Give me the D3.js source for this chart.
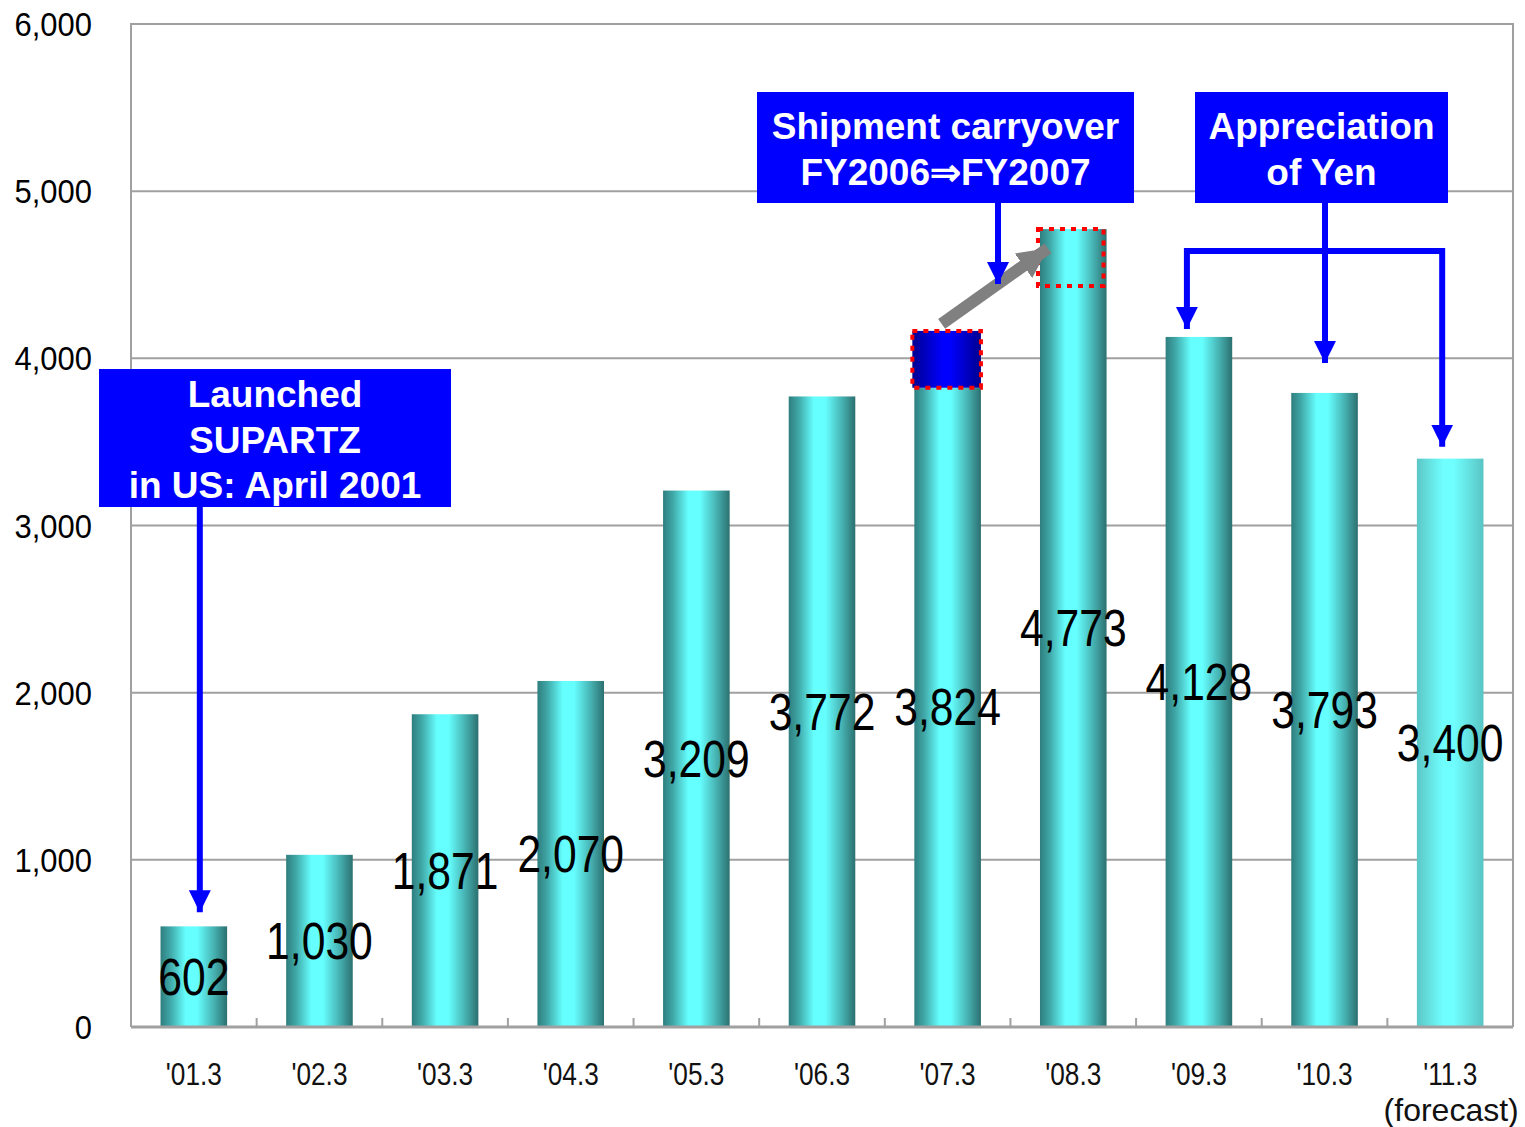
<!DOCTYPE html>
<head>
<meta charset="utf-8">
<style>
body, html {
  margin: 0;
  background: #fff;
  font-family: "Liberation Sans", Arial, sans-serif;
}
.grid line { stroke: #a0a0a0; stroke-width: 2; }
.frame { fill: none; stroke: #a0a0a0; stroke-width: 2; }
.ylab { font-size: 34px; fill: #000; text-anchor: end; }
.xlab { font-size: 32px; fill: #111; text-anchor: middle; }
.val { font-size: 52px; fill: #000; text-anchor: middle; }
.note { font-weight: bold; font-size: 37px; fill: #fff; text-anchor: middle; }
</style>
<script src="https://d3js.org/d3.v7.min.js"></script>
</head>
<body>
<div id="chart"></div>
<script>

// sales (million yen) by fiscal year end
var categories = ["'01.3", "'02.3", "'03.3", "'04.3", "'05.3", "'06.3", "'07.3", "'08.3", "'09.3", "'10.3", "'11.3"];
var sales = [602, 1030, 1871, 2070, 3209, 3772, 3824, 4773, 4128, 3793, 3400];
var forecast = [false, false, false, false, false, false, false, false, false, false, true];
var yTicks = [0, 1000, 2000, 3000, 4000, 5000, 6000];
var carryover = 340;   // shipment moved from FY2006 to FY2007 (estimated)

var width = 1525, height = 1127;
var plot = {left: 131, right: 1513, top: 24, bottom: 1027};
var narrow = 0.82;     // horizontal squeeze to mimic a condensed face

var svg = d3.select('#chart').append('svg')
    .attr('width', width)
    .attr('height', height);

var x = d3.scaleBand()
    .domain(categories)
    .range([plot.left, plot.right])
    .paddingInner(0.47)
    .paddingOuter(0.235);

var y = d3.scaleLinear()
    .domain([0, 6000])
    .range([plot.bottom, plot.top]);

var cx = function(c) { return x(c) + x.bandwidth() / 2; };

//--------------------------------------
// gradients
var defs = svg.append('defs');
function gradient(id, stops) {
  var g = defs.append('linearGradient').attr('id', id)
      .attr('x1', 0).attr('x2', 1).attr('y1', 0).attr('y2', 0);
  stops.forEach(function(s) {
    g.append('stop').attr('offset', s[0]).attr('stop-color', s[1]);
  });
}
gradient('barGrad', [[0, '#2f7e7e'], [0.15, '#40a8a8'], [0.38, '#66ffff'], [0.55, '#66ffff'], [0.8, '#47b2b2'], [1, '#2c7070']]);
gradient('foreGrad', [[0, '#5cc6c6'], [0.4, '#70ffff'], [0.55, '#70ffff'], [1, '#5ac4c4']]);
gradient('blueGrad', [[0, '#000090'], [0.45, '#0000ff'], [0.55, '#0000ff'], [1, '#000090']]);

function marker(id, color, w, h) {
  defs.append('marker').attr('id', id)
      .attr('viewBox', '0 0 10 10')
      .attr('refX', 10).attr('refY', 5)
      .attr('markerUnits', 'userSpaceOnUse')
      .attr('markerWidth', h).attr('markerHeight', w)
      .attr('orient', 'auto')
    .append('path').attr('d', 'M0,0L10,5L0,10Z').attr('fill', color);
}
marker('blueHead', '#0000ff', 24, 22);
marker('grayHead', '#808080', 36, 30);

//--------------------------------------
// grid and frame
svg.append('g').attr('class', 'grid')
  .selectAll('line').data(yTicks.slice(1)).enter().append('line')
    .attr('x1', plot.left).attr('x2', plot.right)
    .attr('y1', function(d) { return y(d); })
    .attr('y2', function(d) { return y(d); });

svg.append('path').attr('class', 'frame')
    .attr('d', 'M' + plot.left + ',' + plot.bottom + 'V' + plot.top + 'H' + plot.right + 'V' + plot.bottom);

svg.append('g').selectAll('text').data(yTicks).enter().append('text')
    .attr('class', 'ylab')
    .attr('transform', function(d) { return 'translate(92,' + (y(d) + 12) + ') scale(0.91,1)'; })
    .text(d3.format(','));

//--------------------------------------
// bars
var bars = categories.map(function(c, i) { return {cat: c, v: sales[i], f: forecast[i]}; });

svg.append('g').selectAll('rect').data(bars).enter().append('rect')
    .attr('x', function(d) { return x(d.cat); })
    .attr('width', x.bandwidth())
    .attr('y', function(d) { return y(d.v); })
    .attr('height', function(d) { return y(0) - y(d.v); })
    .attr('fill', function(d) { return d.f ? 'url(#foreGrad)' : 'url(#barGrad)'; });

// x axis line and ticks between bands
svg.append('line')
    .attr('x1', plot.left).attr('x2', plot.right)
    .attr('y1', plot.bottom).attr('y2', plot.bottom)
    .attr('stroke', '#a0a0a0').attr('stroke-width', 3);

svg.append('g').selectAll('line').data(categories.slice(1)).enter().append('line')
    .attr('x1', function(c) { return x(c) - x.step() * x.paddingInner() / 2; })
    .attr('x2', function(c) { return x(c) - x.step() * x.paddingInner() / 2; })
    .attr('y1', plot.bottom).attr('y2', plot.bottom - 9)
    .attr('stroke', '#a0a0a0').attr('stroke-width', 2);

svg.append('g').selectAll('text').data(categories).enter().append('text')
    .attr('class', 'xlab')
    .attr('transform', function(c) { return 'translate(' + cx(c) + ',1085) scale(' + narrow + ',1)'; })
    .text(function(d) { return d; });

svg.append('text').attr('class', 'xlab')
    .attr('x', cx(categories[10]) + 1)
    .attr('y', 1121)
    .text('(forecast)');

//--------------------------------------
// carryover block on '07.3 and its target on '08.3
var c07 = categories[6], c08 = categories[7];
svg.append('rect')
    .attr('x', x(c07) - 2).attr('width', x.bandwidth() + 2)
    .attr('y', y(sales[6] + carryover)).attr('height', y(sales[6]) - y(sales[6] + carryover))
    .attr('fill', 'url(#blueGrad)')
    .attr('stroke', '#ff0000').attr('stroke-width', 4).attr('stroke-dasharray', '5,6');

svg.append('rect')
    .attr('x', x(c08) - 2).attr('width', x.bandwidth() - 1)
    .attr('y', y(sales[7])).attr('height', y(sales[7] - carryover) - y(sales[7]))
    .attr('fill', 'none')
    .attr('stroke', '#ff0000').attr('stroke-width', 4).attr('stroke-dasharray', '5,6');

svg.append('line')
    .attr('x1', cx(c07) - 6).attr('y1', y(sales[6] + carryover) - 7)
    .attr('x2', x(c08) + 8).attr('y2', y(sales[7] - 115))
    .attr('stroke', '#808080').attr('stroke-width', 12)
    .attr('marker-end', 'url(#grayHead)');

//--------------------------------------
// values
svg.append('g').selectAll('text').data(bars).enter().append('text')
    .attr('class', 'val')
    .attr('transform', function(d) {
      return 'translate(' + cx(d.cat) + ',' + (y(d.v / 2) + 18) + ') scale(' + narrow + ',1)';
    })
    .text(function(d) { return d3.format(',')(d.v); });

//--------------------------------------
// annotation arrows
function arrow(pts) {
  svg.append('path')
      .attr('d', d3.line()(pts))
      .attr('fill', 'none')
      .attr('stroke', '#0000ff').attr('stroke-width', 6)
      .attr('marker-end', 'url(#blueHead)');
}
var cat01 = cx(categories[0]) + 6;
arrow([[cat01, 505], [cat01, y(sales[0]) - 14]]);

var xShip = 998;
arrow([[xShip, 201], [xShip, 284]]);

var hY = 251;
arrow([[1325, 201], [1325, y(sales[9]) - 30]]);
arrow([[1325, hY], [cx(categories[8]) - 12, hY], [cx(categories[8]) - 12, y(sales[8]) - 8]]);
arrow([[1325, hY], [cx(categories[10]) - 8, hY], [cx(categories[10]) - 8, y(sales[10]) - 12]]);

//--------------------------------------
// annotation boxes
function note(x0, y0, w, h, lines, firstBase) {
  svg.append('rect')
      .attr('x', x0).attr('y', y0).attr('width', w).attr('height', h)
      .attr('fill', '#0000ff');
  svg.append('g').selectAll('text').data(lines).enter().append('text')
      .attr('class', 'note')
      .attr('x', x0 + w / 2)
      .attr('y', function(d, i) { return firstBase + i * 45.5; })
      .text(function(d) { return d; });
}
note(99, 369, 352, 138, ['Launched', 'SUPARTZ', 'in US: April 2001'], 407);
note(757, 92, 377, 111, ['Shipment carryover', 'FY2006\u21d2FY2007'], 139);
note(1195, 92, 253, 111, ['Appreciation', 'of Yen'], 139);

</script>
</body>
